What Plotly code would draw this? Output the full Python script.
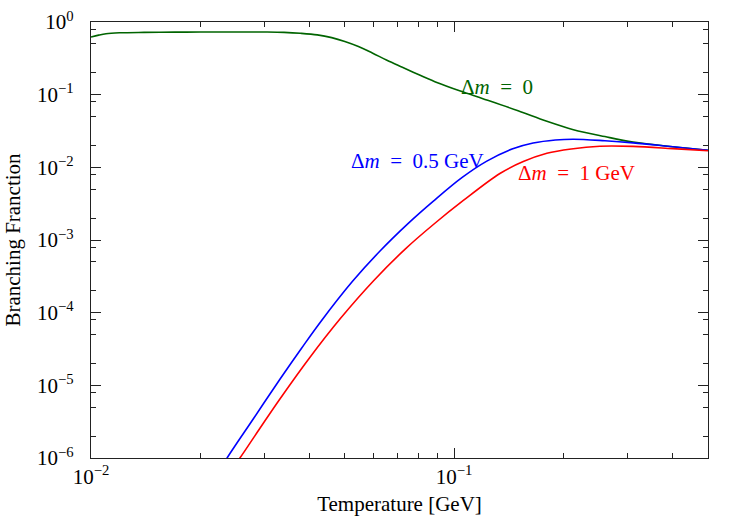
import plotly.graph_objects as go

# ---- data ----
T_dm0 = [0.0100, 0.0105, 0.0110, 0.0120, 0.0140, 0.0170, 0.0200, 0.0250, 0.0300,
         0.0340, 0.0377, 0.0420, 0.0460, 0.0500, 0.0545, 0.0595, 0.0653, 0.0720, 0.0806,
         0.0900, 0.1040, 0.1200, 0.1500, 0.1800, 0.2130, 0.2600, 0.3110, 0.4000, 0.5000]
B_dm0 = [0.62, 0.66, 0.69, 0.71, 0.72, 0.725, 0.728, 0.73, 0.728,
         0.72, 0.70, 0.665, 0.61, 0.54, 0.46, 0.375, 0.297, 0.238, 0.185,
         0.146, 0.112, 0.088, 0.060, 0.043, 0.033, 0.0265, 0.0223, 0.0192, 0.0172]

T_dm05 = [0.0232, 0.0237, 0.0280, 0.0332, 0.0380, 0.0428, 0.0525, 0.0625, 0.0750, 0.0875,
          0.1050, 0.1230, 0.1450, 0.1650, 0.1900, 0.2130, 0.2600, 0.3110, 0.4000, 0.5000]
B_dm05 = [8.3e-7, 1.0e-6, 3.47e-6, 1.23e-5, 3.24e-5, 7.4e-5, 2.7e-4, 7.06e-4, 1.72e-3, 3.4e-3,
          7.2e-3, 0.01217, 0.0180, 0.0216, 0.0238, 0.0244, 0.0232, 0.0217, 0.0192, 0.0172]

T_dm1 = [0.0251, 0.0257, 0.0290, 0.0332, 0.0400, 0.0486, 0.0600, 0.0733, 0.0880,
         0.1060, 0.1340, 0.1550, 0.1800, 0.2100, 0.2520, 0.3110, 0.4000, 0.5000]
B_dm1 = [8.7e-7, 1.0e-6, 2.45e-6, 6.6e-6, 2.4e-5, 8.3e-5, 2.75e-4, 7.5e-4, 1.66e-3,
         3.5e-3, 8.3e-3, 0.0120, 0.0156, 0.0179, 0.0195, 0.0194, 0.0181, 0.0169]

series_names = ["Δ<i>m</i>\u2002=\u20020", "Δ<i>m</i>\u2002=\u20020.5 GeV", "Δ<i>m</i>\u2002=\u20021 GeV"]
series_colors = ["rgb(0,100,0)", "rgb(0,0,255)", "rgb(255,0,0)"]

x_tickvals = [0.01, 0.1]
x_ticktext = ["10<sup>−2</sup>", "10<sup>−1</sup>"]
x_minor = [m * d for d in (0.01, 0.1) for m in range(2, 10) if m * d <= 0.5]

y_tickvals = [1e-6, 1e-5, 1e-4, 1e-3, 1e-2, 1e-1, 1e0]
y_ticktext = ["10<sup>−6</sup>", "10<sup>−5</sup>", "10<sup>−4</sup>", "10<sup>−3</sup>",
              "10<sup>−2</sup>", "10<sup>−1</sup>", "10<sup>0</sup>"]
y_minor = [m * d for d in (1e-6, 1e-5, 1e-4, 1e-3, 1e-2, 1e-1) for m in (2, 5, 8)]

FONT = "'Liberation Serif', 'Times New Roman', serif"

fig = go.Figure()
for T, B, c in zip([T_dm0, T_dm05, T_dm1], [B_dm0, B_dm05, B_dm1], series_colors):
    fig.add_trace(go.Scatter(x=T, y=B, mode="lines",
                             line=dict(color=c, width=1.6, shape="spline", smoothing=1.0),
                             showlegend=False, hoverinfo="skip"))

# labels (log10 data coordinates)
label_pos = [(-0.882, -0.898), (-1.102, -1.916), (-0.664, -2.081)]
for name, c, (lx, ly) in zip(series_names, series_colors, label_pos):
    fig.add_annotation(x=lx, y=ly, xref="x", yref="y", text=name, showarrow=False,
                       font=dict(family=FONT, size=21, color=c))

axis_common = dict(
    type="log", showgrid=False, zeroline=False, showline=True, linecolor="#222",
    linewidth=1.2, mirror="ticks", ticks="inside", ticklen=10, tickwidth=1,
    tickcolor="#222", tickfont=dict(family=FONT, size=21, color="black"),
    automargin=False,
)

fig.update_xaxes(**axis_common, range=[-2, -0.30103], tickmode="array",
                 tickvals=x_tickvals, ticktext=x_ticktext, ticklabelstandoff=0,
                 minor=dict(tickmode="array", tickvals=x_minor, ticks="inside",
                            ticklen=5, tickcolor="#222", tickwidth=1),
                 title=dict(text="Temperature [GeV]", font=dict(family=FONT, size=21, color="black"),
                            standoff=8))
fig.update_yaxes(**axis_common, range=[-6, 0], tickmode="array",
                 tickvals=y_tickvals, ticktext=y_ticktext, ticklabelstandoff=12,
                 minor=dict(tickmode="array", tickvals=y_minor, ticks="inside",
                            ticklen=5, tickcolor="#222", tickwidth=1),
                 title=dict(text="Branching Franction", font=dict(family=FONT, size=21, color="black"),
                            standoff=10))

fig.update_layout(width=741, height=522, plot_bgcolor="white", paper_bgcolor="white",
                  margin=dict(l=91, r=33, t=22, b=64))

fig.write_html("out.html")
